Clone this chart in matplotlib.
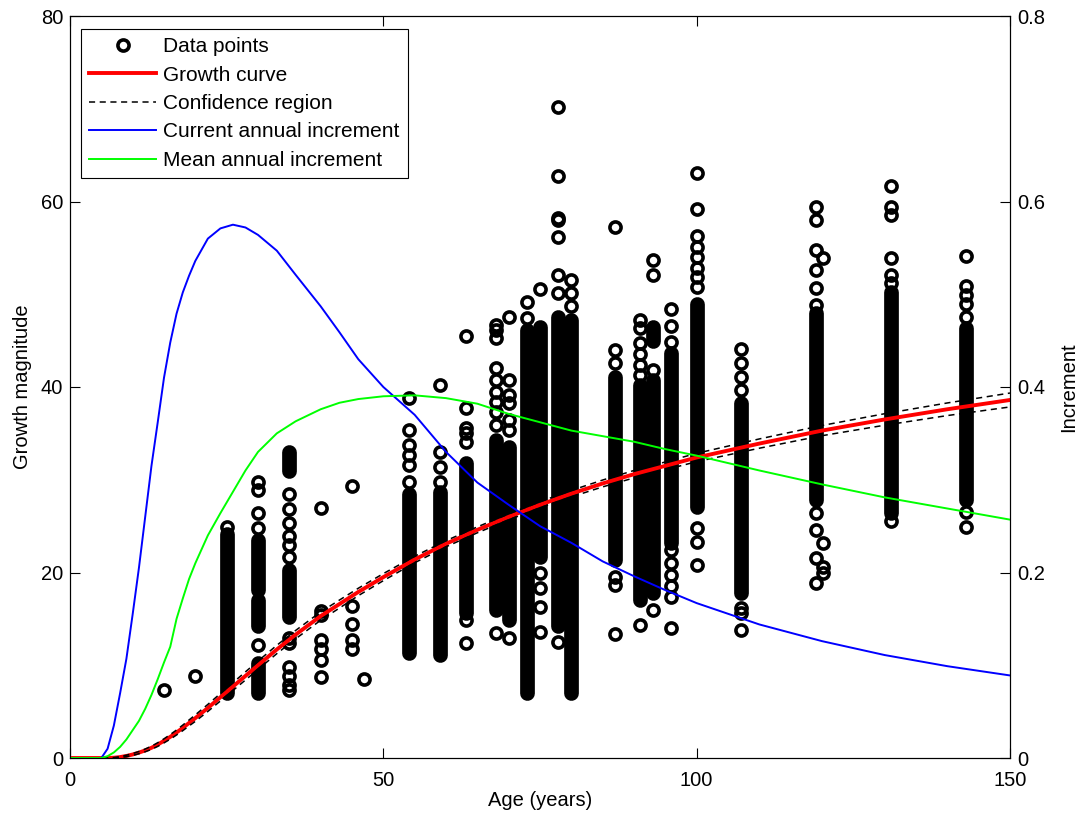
import matplotlib
matplotlib.use('Agg')
import matplotlib.pyplot as plt
from matplotlib.lines import Line2D

plt.rcParams['font.family'] = ['Liberation Sans', 'DejaVu Sans']

# measured ages (one column of trees per age)
col_age = [15, 20, 25, 30, 35, 40, 45, 46.9, 54.1, 59, 63.2, 68, 70, 72.9, 75,
           77.9, 79.9, 87, 91, 93, 95.9, 100, 107.1, 119, 120.1, 131, 143]

# single circles that can be read one by one
col_points = [
    [7.3],
    [8.8],
    [24.9],
    [29.8, 28.9, 26.4, 24.8, 12.2],
    [28.5, 26.9, 25.3, 23.9, 23.0, 21.7, 12.9, 12.4, 9.8, 8.8, 7.9, 7.3],
    [27.0, 15.9, 15.4, 12.7, 11.8, 10.6, 8.7],
    [29.3, 16.4, 14.5, 12.7, 11.8],
    [8.5],
    [38.8, 35.4, 33.7, 32.7, 31.6, 29.8],
    [40.2, 33.0, 31.4, 29.8],
    [45.5, 37.7, 35.6, 35.0, 34.1, 14.9, 12.4],
    [46.7, 46.1, 45.3, 42.0, 40.8, 39.5, 38.4, 37.3, 35.9, 13.5],
    [47.5, 40.8, 39.1, 38.3, 36.4, 35.4, 12.9],
    [49.2, 47.4],
    [50.6, 20.0, 18.3, 16.3, 13.6],
    [70.2, 62.7, 58.2, 58.0, 56.2, 52.1, 50.1, 12.5],
    [51.5, 50.1, 48.7],
    [57.3, 44.0, 42.6, 19.5, 18.7, 13.4],
    [47.2, 46.4, 44.7, 43.6, 42.4, 41.3, 14.3],
    [53.7, 52.1, 41.8, 16.0],
    [48.4, 46.6, 44.9, 22.4, 21.0, 19.7, 18.5, 17.4, 14.0],
    [63.1, 59.2, 56.3, 55.1, 54.0, 52.8, 51.9, 50.8, 24.8, 23.3, 20.8],
    [44.1, 42.6, 41.1, 39.7, 16.2, 15.6, 13.8],
    [59.4, 58.0, 54.8, 52.6, 50.7, 48.8, 26.4, 24.6, 21.6, 18.9],
    [53.9, 23.2, 20.6, 19.9],
    [61.7, 59.4, 58.5, 53.9, 52.1, 51.2, 25.5],
    [54.1, 50.9, 49.9, 48.9, 47.5, 26.5, 24.9],
]

# stretches where the circles overlap into a solid black column (low, high)
col_dense = [
    [], [], [(7.0, 24.2)],
    [(18.1, 23.5), (14.2, 17.0), (7.0, 10.2)],
    [(30.9, 33.0), (15.2, 20.3)],
    [], [], [],
    [(11.3, 28.5)], [(11.1, 28.7)], [(15.6, 31.8)], [(16.0, 34.3)],
    [(14.9, 33.5)], [(7.0, 46.1)], [(21.7, 46.5)], [(14.2, 47.6)],
    [(7.0, 47.2)], [(21.3, 41.1)], [(17.0, 40.2)],
    [(45.0, 46.5), (17.8, 40.8)], [(23.2, 43.7)], [(27.1, 49.0)],
    [(17.8, 38.3)], [(27.8, 48.0)], [], [(26.4, 50.2)], [(27.8, 46.4)],
]

# fitted curves
curve_age = [0, 2, 4, 5, 6, 7, 8, 9, 10, 11, 12, 13, 14, 15, 16, 17, 18, 19, 20,
             22, 24, 26, 28, 30, 33, 36, 40, 43, 46, 50, 55, 60, 65, 70, 75, 80,
             85, 90, 95, 100, 110, 120, 130, 140, 150]
growth = [0, 0, 0, 0, 0, 0.03, 0.1, 0.22, 0.38, 0.58, 0.82, 1.1, 1.45, 1.85,
          2.28, 2.75, 3.25, 3.78, 4.3, 5.4, 6.55, 7.7, 8.85, 10.0, 11.7, 13.3,
          15.3, 16.6, 17.9, 19.5, 21.4, 23.1, 24.6, 26.0, 27.3, 28.5, 29.6,
          30.6, 31.5, 32.4, 33.9, 35.3, 36.5, 37.6, 38.6]
growth_hi = [0, 0, 0, 0, 0, 0.05, 0.15, 0.30, 0.48, 0.70, 0.97, 1.27, 1.65,
             2.07, 2.53, 3.02, 3.55, 4.10, 4.65, 5.78, 6.95, 8.12, 9.29, 10.45,
             12.15, 13.75, 15.75, 17.03, 18.30, 19.88, 21.75, 23.43, 24.92,
             26.32, 27.63, 28.85, 29.97, 31.0, 31.92, 32.85, 34.4, 35.85,
             37.12, 38.28, 39.35]
growth_lo = [0, 0, 0, 0, 0, 0.01, 0.05, 0.14, 0.28, 0.46, 0.67, 0.93, 1.25,
             1.63, 2.03, 2.48, 2.95, 3.46, 3.95, 5.02, 6.15, 7.28, 8.41, 9.55,
             11.25, 12.85, 14.85, 16.17, 17.5, 19.12, 21.05, 22.77, 24.28,
             25.68, 26.97, 28.15, 29.23, 30.2, 31.08, 31.95, 33.4, 34.75,
             35.88, 36.92, 37.85]
cai = [0, 0, 0, 0, 0.01, 0.035, 0.07, 0.107, 0.155, 0.205, 0.26, 0.315, 0.362,
       0.41, 0.448, 0.479, 0.502, 0.52, 0.536, 0.56, 0.571, 0.575, 0.572,
       0.564, 0.547, 0.521, 0.487, 0.459, 0.43, 0.40, 0.37, 0.33, 0.297,
       0.273, 0.25, 0.232, 0.212, 0.196, 0.181, 0.167, 0.144, 0.126, 0.111,
       0.099, 0.089]
mai = [0, 0, 0, 0, 0.002, 0.006, 0.012, 0.02, 0.03, 0.04, 0.053, 0.068, 0.085,
       0.103, 0.12, 0.15, 0.172, 0.193, 0.21, 0.24, 0.264, 0.287, 0.31, 0.33,
       0.35, 0.363, 0.376, 0.383, 0.387, 0.39, 0.391, 0.388, 0.382, 0.371,
       0.362, 0.353, 0.347, 0.341, 0.333, 0.326, 0.31, 0.295, 0.281, 0.269,
       0.257]

fs = 14.5
fig = plt.figure(figsize=(10.8, 8.18), dpi=100)
ax = fig.add_axes([70 / 1080, 60 / 818, 940 / 1080, 742 / 818])

ms, mew = 8, 2.6
for a, pts, dense in zip(col_age, col_points, col_dense):
    for lo, hi in dense:
        ax.plot([a, a], [lo, hi], color='k', lw=ms + mew,
                solid_capstyle='round', zorder=2)
    ax.plot([a] * len(pts), pts, 'o', mfc='none', mec='k', ms=ms, mew=mew,
            zorder=2)

ax.plot(curve_age, growth, color='red', lw=2.8, zorder=3)
ax.plot(curve_age, growth_hi, color='k', lw=1.1, ls=(0, (4, 3)), zorder=4)
ax.plot(curve_age, growth_lo, color='k', lw=1.1, ls=(0, (4, 3)), zorder=4)

ax.set_xlim(0, 150)
ax.set_ylim(0, 80)
ax.set_xticks([0, 50, 100, 150])
ax.set_yticks([0, 20, 40, 60, 80])
ax.tick_params(axis='x', direction='in', top=True, length=7, labelsize=fs,
               pad=9)
ax.tick_params(axis='y', direction='in', right=False, length=7, labelsize=fs,
               pad=5)
ax.set_xlabel('Age (years)', fontsize=fs, labelpad=1)
ax.set_ylabel('Growth magnitude', fontsize=fs, labelpad=6)

ax2 = ax.twinx()
ax2.plot(curve_age, cai, color='#0000ff', lw=1.4)
ax2.plot(curve_age, mai, color='#00ff00', lw=1.4)
ax2.set_ylim(0, 0.8)
ax2.set_yticks([0, 0.2, 0.4, 0.6, 0.8])
ax2.set_yticklabels(['0', '0.2', '0.4', '0.6', '0.8'])
ax2.tick_params(axis='y', direction='in', length=7, labelsize=fs, pad=5)
ax2.set_ylabel('Increment', fontsize=fs, labelpad=10)

for s in list(ax.spines.values()) + list(ax2.spines.values()):
    s.set_linewidth(0.8)

handles = [
    Line2D([], [], ls='none', marker='o', mfc='none', mec='k', ms=ms, mew=mew),
    Line2D([], [], color='red', lw=2.8),
    Line2D([], [], color='k', lw=1.1, ls=(0, (4, 3))),
    Line2D([], [], color='#0000ff', lw=1.4),
    Line2D([], [], color='#00ff00', lw=1.4),
]
labels = ['Data points', 'Growth curve', 'Confidence region',
          'Current annual increment', 'Mean annual increment']
leg = ax2.legend(handles, labels, loc='upper left',
                 bbox_to_anchor=(0.0117, 0.9825), borderaxespad=0,
                 fontsize=15, handlelength=3.2, handletextpad=0.35,
                 labelspacing=0.45, borderpad=0.4, fancybox=False,
                 framealpha=1, edgecolor='k')
leg.get_frame().set_linewidth(0.8)

fig.savefig('out.png', dpi=100)
